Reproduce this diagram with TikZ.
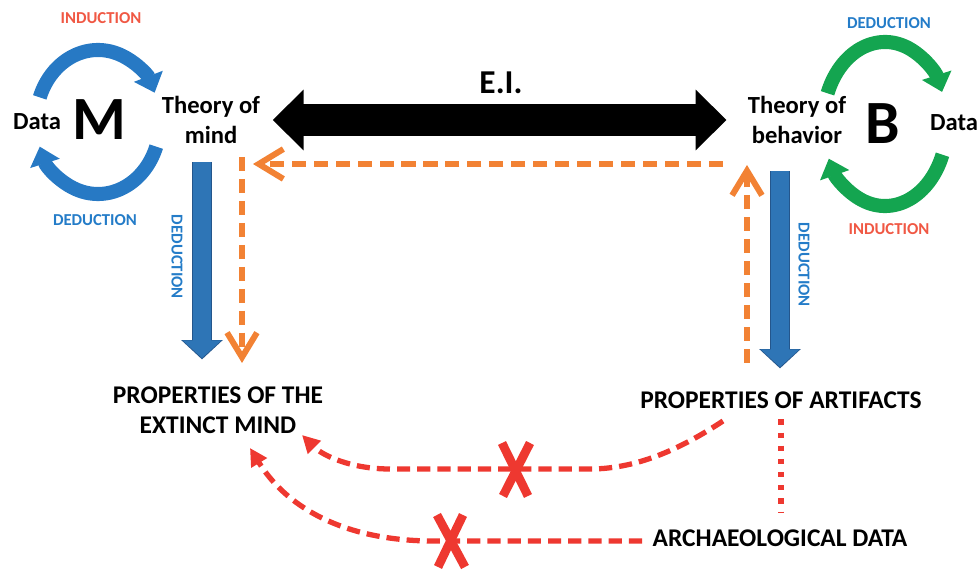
\documentclass[tikz,border=0pt]{standalone}
\usepackage{fontspec}
\setmainfont{Carlito}
\usepackage{xcolor}
\usetikzlibrary{arrows.meta, positioning}

\definecolor{cycblue}{RGB}{39,121,196}
\definecolor{cycgreen}{RGB}{20,165,80}
\definecolor{indred}{RGB}{240,88,68}
\definecolor{dedblue}{RGB}{36,124,200}
\definecolor{barblue}{RGB}{46,117,182}
\definecolor{barrim}{RGB}{36,86,140}
\definecolor{dashorange}{RGB}{242,130,52}
\definecolor{failred}{RGB}{238,56,48}

\begin{document}
\begin{tikzpicture}[x=0.02cm, y=-0.02cm,
	txt/.style={font=\bfseries\fontsize{14}{17.5}\selectfont, align=center, inner sep=1pt},
	prop/.style={font=\bfseries\fontsize{14.5}{17}\selectfont, align=center, inner sep=1pt},
	big/.style={font=\bfseries\fontsize{35}{35}\selectfont, inner sep=0pt},
	tag/.style={font=\bfseries\fontsize{9.5}{10}\selectfont, inner sep=0pt},
	cyc/.style={line width=8pt, -{Triangle[length=10pt, width=17pt]}},
	deductrim/.style={barrim, line width=11.8pt, shorten >=-0.8pt, -{Triangle[length=11pt, width=23pt]}},
	deduct/.style={barblue, line width=10.8pt, -{Triangle[length=10pt, width=21.5pt]}},
	eiarrow/.style={black, line width=18pt, {Triangle[length=17.6pt, width=33.5pt]}-{Triangle[length=17.6pt, width=33.5pt]}},
	inference/.style={dashorange, line width=3.4pt, dash pattern=on 8pt off 4.5pt, -{Straight Barb[length=14pt, width=17pt]}},
	blocked/.style={failred, line width=3pt, dash pattern=on 7.5pt off 4pt, -{Triangle[length=10pt, width=10pt]}},
	xmark/.style={failred, line width=5pt}
	]
	\useasboundingbox (0,0) rectangle (977,570);

	% the two theories
	\node [txt](dataM) at (37,122) {Data};
	\node [big](M) at (99,120) {M};
	\node [txt](mind) at (211,120) {Theory of\\mind};
	\node [txt](behav) at (797,120) {Theory of\\behavior};
	\node [big](B) at (883,124) {B};
	\node [txt](dataB) at (954,123) {Data};
	\node [font=\bfseries\fontsize{19}{19}\selectfont, inner sep=0pt](ei) at (501,83) {E.I.};

	\node [tag, indred](indM) at (101,18) {INDUCTION};
	\node [tag, dedblue](dedM) at (95,220) {DEDUCTION};
	\node [tag, dedblue](dedB) at (889,23) {DEDUCTION};
	\node [tag, indred](indB) at (889,229) {INDUCTION};
	\node [tag, dedblue, rotate=-90](dedL) at (177,257) {DEDUCTION};
	\node [tag, dedblue, rotate=-90](dedR) at (804,265) {DEDUCTION};

	% properties
	\node [prop](extinct) at (218,410) {PROPERTIES OF THE\\EXTINCT MIND};
	\node [prop](artifacts) at (781,400) {PROPERTIES OF ARTIFACTS};
	\node [prop](archdata) at (780,538) {ARCHAEOLOGICAL DATA};

	\coordinate (cM) at (98,122);
	\coordinate (cB) at (885,124);
	\coordinate (dlTop) at (202,162);
	\coordinate (dlBot) at (202,358);
	\coordinate (drTop) at (780,171);
	\coordinate (drBot) at (780,367);
	\coordinate (oTopR) at (723,164);
	\coordinate (oTopL) at (253,164);
	\coordinate (oLeftT) at (242,157);
	\coordinate (oLeftB) at (242,363);
	\coordinate (oRightB) at (747,363);
	\coordinate (oRightT) at (747,165);
	\coordinate (rA0) at (723,421);
	\coordinate (rA1) at (302,435);
	\coordinate (rB0) at (642,541);
	\coordinate (rB1) at (250,448);

	% cycles
	\draw[cyc, cycblue] (cM) ++(-160:62 and 72) arc[start angle=-160, end angle=-24, x radius=62, y radius=72];
	\draw[cyc, cycblue] (cM) ++(20:62 and 72) arc[start angle=20, end angle=160, x radius=62, y radius=72];
	\draw[cyc, cycgreen] (cB) ++(-158:62 and 82) arc[start angle=-158, end angle=-23, x radius=62, y radius=82];
	\draw[cyc, cycgreen] (cB) ++(22:62 and 82) arc[start angle=22, end angle=155, x radius=62, y radius=82];

	\draw[eiarrow, shorten <=6pt, shorten >=11pt] (mind) -- (behav);

	\draw[deductrim] (dlTop) -- (dlBot);
	\draw[deduct] (dlTop) -- (dlBot);
	\draw[deductrim] (drTop) -- (drBot);
	\draw[deduct] (drTop) -- (drBot);

	\draw[inference] (oTopR) -- (oTopL);
	\draw[inference] (oLeftT) -- (oLeftB);
	\draw[inference] (oRightB) -- (oRightT);

	\draw[blocked] (rA0) .. controls (685,446) and (640,469) .. (590,469) -- (390,469) .. controls (350,469) and (322,455) .. (rA1);
	\draw[blocked] (rB0) -- (430,541) .. controls (340,540) and (285,505) .. (rB1);
	\draw[failred, line width=3.4pt, dash pattern=on 3pt off 4.5pt, shorten <=5pt, shorten >=8pt] (artifacts.south) -- (artifacts.south |- archdata.north);

	\draw[xmark] (502,443) -- (528,496) (530,443) -- (503,496);
	\draw[xmark] (437,515) -- (465,567) (463,515) -- (438,567);
\end{tikzpicture}
\end{document}
